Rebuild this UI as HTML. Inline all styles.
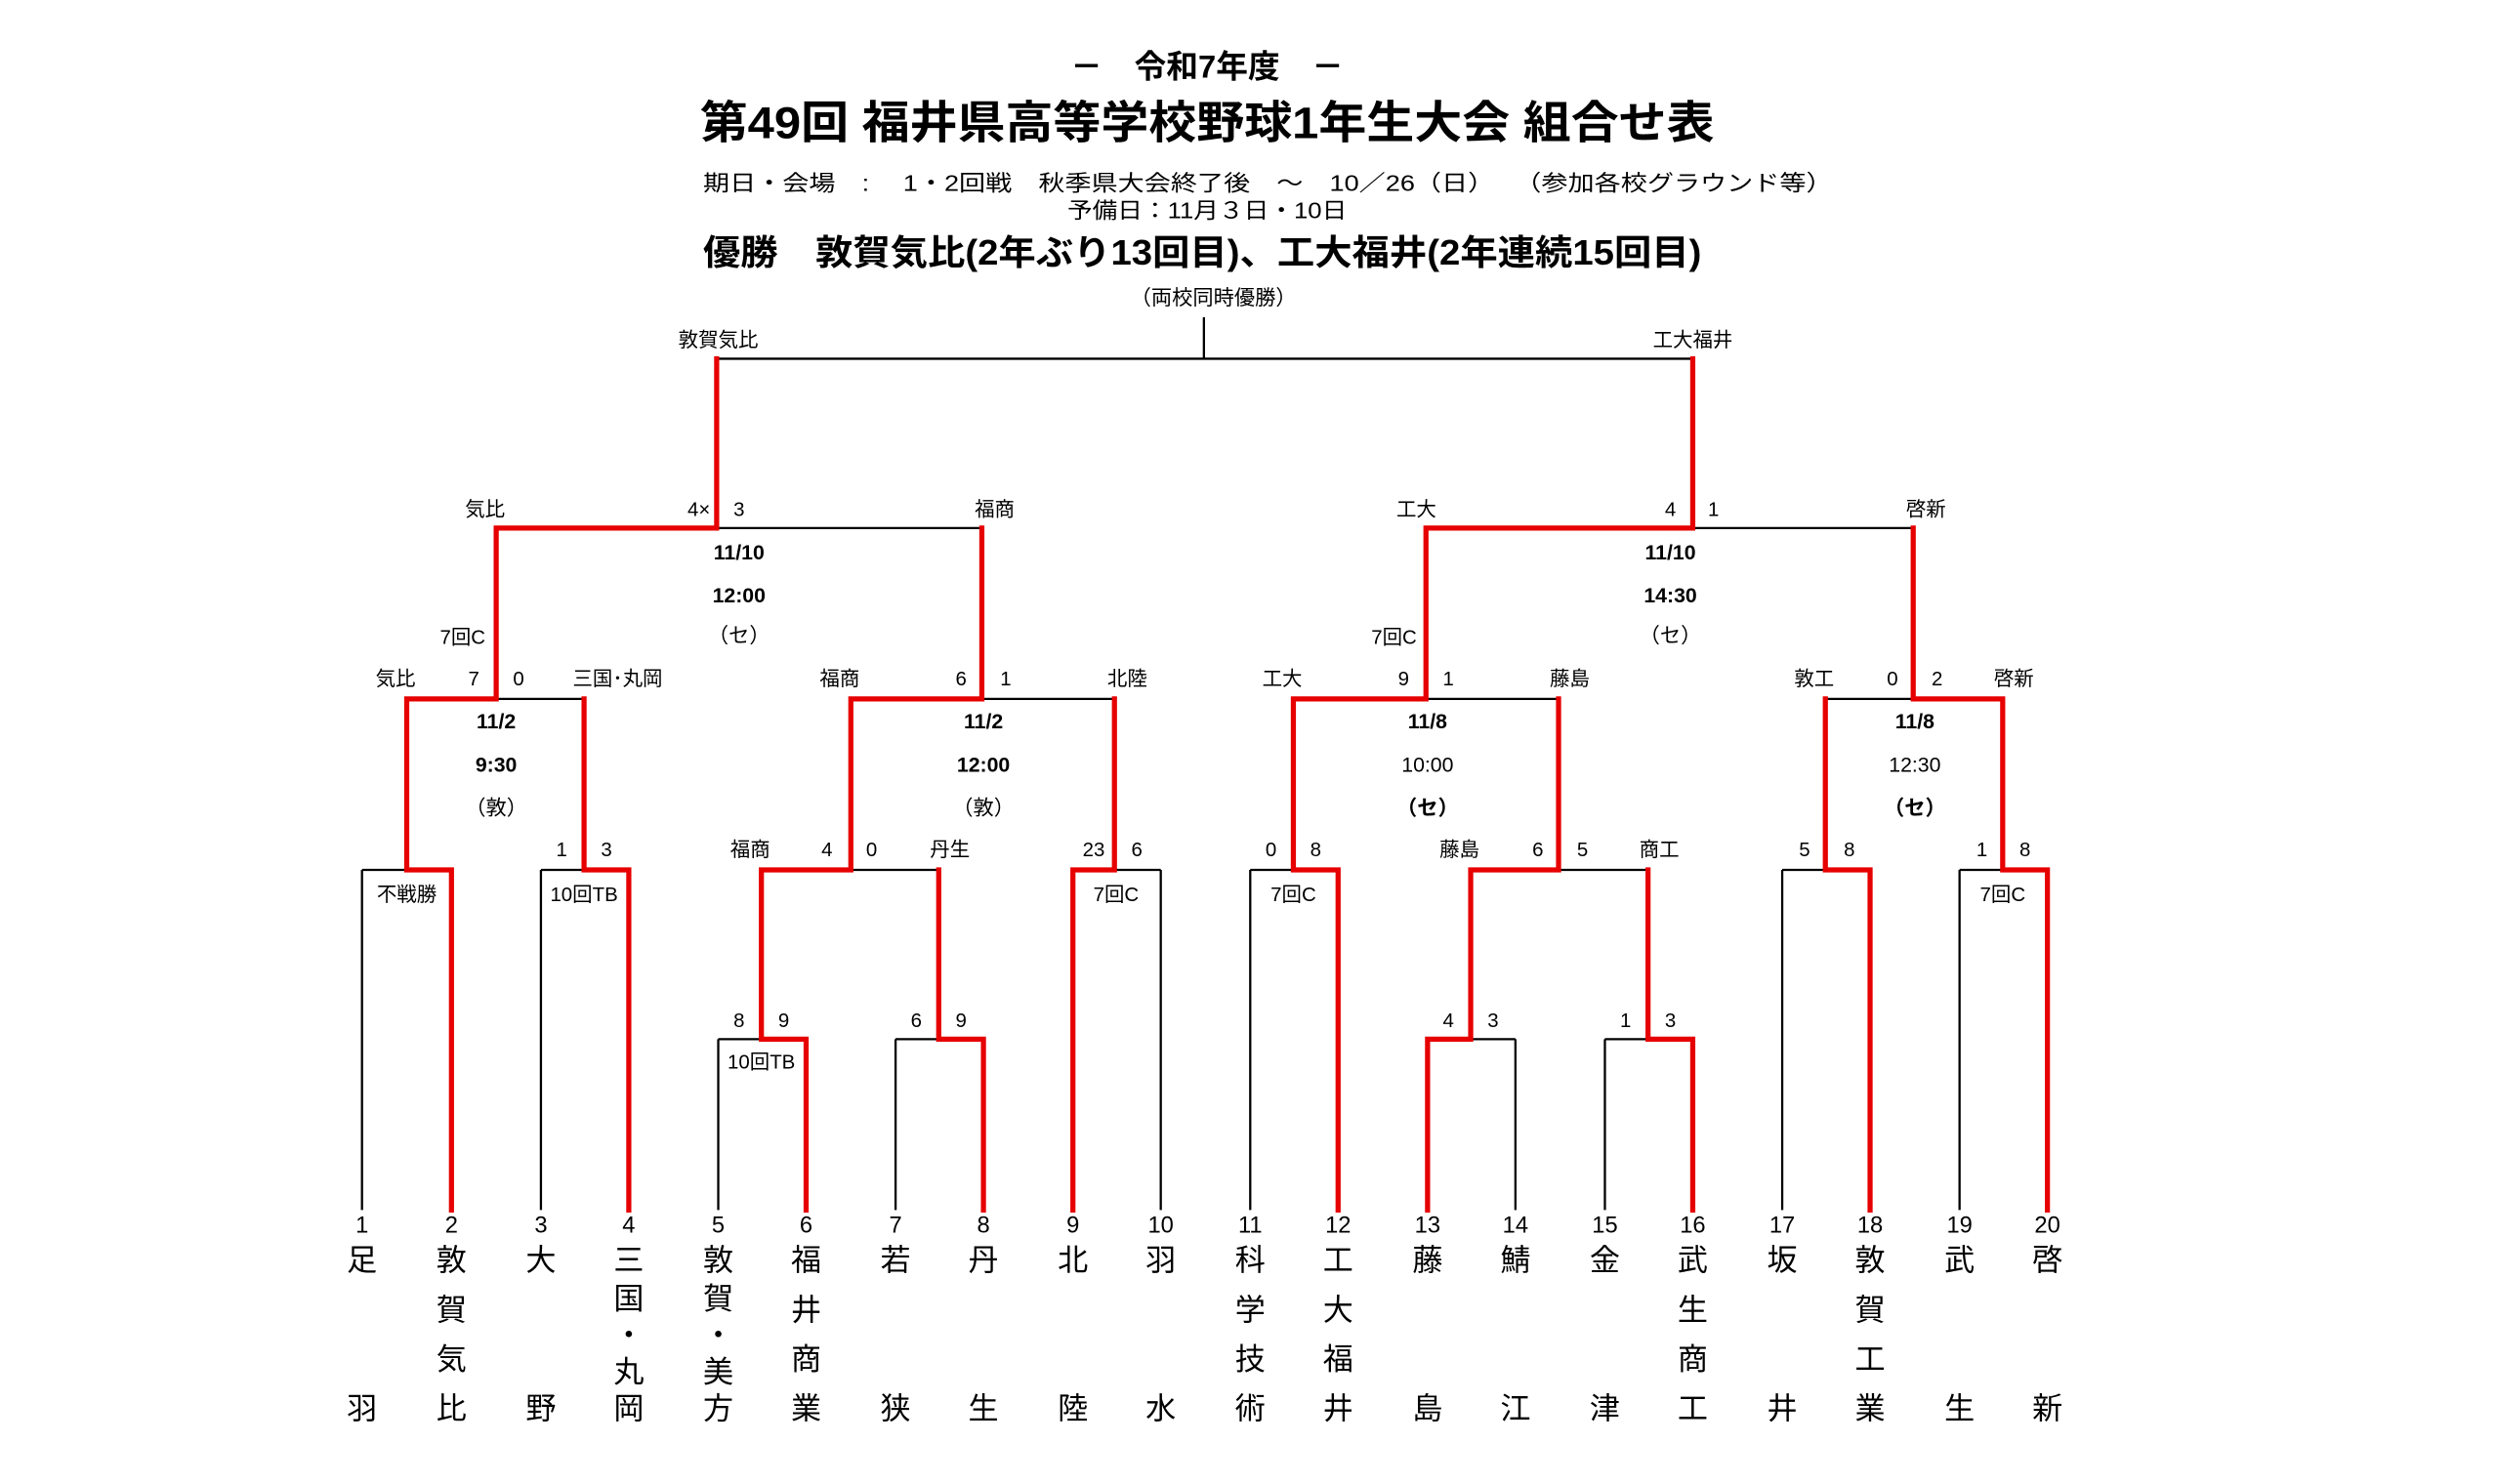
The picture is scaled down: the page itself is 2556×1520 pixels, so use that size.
<!DOCTYPE html>
<html><head><meta charset="utf-8"><style>
html,body{margin:0;padding:0;background:#fff;}
svg{display:block;}
text{font-family:"Liberation Sans","Noto Sans CJK JP",sans-serif;fill:#000;}
</style></head><body>
<svg width="2556" height="1520" viewBox="2.4 2.4 1562.4 929.1" preserveAspectRatio="none" xmlns="http://www.w3.org/2000/svg">
<rect x="0" y="0" width="1570" height="935" fill="#fff"/>
<g text-anchor="middle" transform="translate(0,2)">
<text x="758" y="49" font-size="20" font-weight="bold">－　令和7年度　－</text>
<text x="758" y="87" font-size="28" font-weight="bold" textLength="635" lengthAdjust="spacingAndGlyphs">第49回  福井県高等学校野球1年生大会  組合せ表</text>
<text x="796" y="120" font-size="14" textLength="707" lengthAdjust="spacingAndGlyphs">期日・会場　:　 1・2回戦　秋季県大会終了後　～　10／26（日）　 （参加各校グラウンド等）</text>
<text x="758" y="137" font-size="14" textLength="175" lengthAdjust="spacingAndGlyphs">予備日：11月３日・10日</text>
<text x="755" y="166" font-size="22" font-weight="bold" textLength="625" lengthAdjust="spacingAndGlyphs">優勝　敦賀気比(2年ぶり13回目)、工大福井(2年連続15回目)</text>
<text x="762" y="191" font-size="13">（両校同時優勝）</text>
</g>
<g fill="none" stroke="#000" stroke-width="1.4">
<path d="M756 201V227M451 227H1062M313 333H617M895 333H1200M257 440H368M535 440H700M812 440H978M1145 440H1256
M229 547H285M341 547H396M479 547H590M674 547H729M785 547H840M923 547H1034M1118 547H1173M1229 547H1284
M452 653H507M563 653H618M896 653H951M1007 653H1062
M229 547V760M341 547V760M452 653V760M563 653V760M729 547V760M785 547V760M951 653V760M1007 653V760M1118 547V760M1229 547V760"/>
</g>
<g fill="none" stroke="#e60000" stroke-width="3.2" stroke-linecap="square" stroke-linejoin="miter">
<path d="M451 227V333M1062 227V333
M451 333H313V440M617 333V440M1062 333H895V440M1200 333V440
M313 440H257V547M368 440V547M617 440H535V547M700 440V547M895 440H812V547M978 440V547M1200 440H1256V547M1145 440V547
M257 547H285V760M368 547H396V760M535 547H479V653M590 547V653M700 547H674V760M812 547H840V760M978 547H923V653M1034 547V653M1145 547H1173V760M1256 547H1284V760
M479 653H507V760M590 653H618V760M923 653H896V760M1034 653H1062V760"/>
</g>
<g text-anchor="middle" font-size="12.5" transform="translate(0,1.5)">
<text x="452" y="218">敦賀気比</text><text x="1062" y="218">工大福井</text>
<text x="306" y="324">気比</text><text x="447" y="324" text-anchor="end">4×</text><text x="465" y="324">3</text><text x="625" y="324">福商</text>
<text x="889" y="324">工大</text><text x="1048" y="324">4</text><text x="1075" y="324">1</text><text x="1208" y="324">啓新</text>
<g font-weight="bold" font-size="13">
<text x="465" y="351">11/10</text><text x="465" y="378">12:00</text>
<text x="1048" y="351">11/10</text><text x="1048" y="378">14:30</text>
<text x="313" y="457">11/2</text><text x="313" y="484">9:30</text>
<text x="618" y="457">11/2</text><text x="618" y="484">12:00</text>
<text x="896" y="457">11/8</text><text x="1201" y="457">11/8</text>
<text x="896" y="511">（セ）</text><text x="1201" y="511">（セ）</text>
</g>
<text x="465" y="403" font-size="13">（セ）</text><text x="1048" y="403" font-size="13">（セ）</text>
<text x="313" y="511" font-size="13">（敦）</text><text x="618" y="511" font-size="13">（敦）</text>
<text x="896" y="484" font-size="13">10:00</text><text x="1201" y="484" font-size="13">12:30</text>
<text x="292" y="404">7回C</text><text x="875" y="404">7回C</text>
<text x="250" y="430">気比</text><text x="299" y="430">7</text><text x="327" y="430">0</text><text x="389" y="430">三国･丸岡</text>
<text x="528" y="430">福商</text><text x="604" y="430">6</text><text x="632" y="430">1</text><text x="708" y="430">北陸</text>
<text x="805" y="430">工大</text><text x="881" y="430">9</text><text x="909" y="430">1</text><text x="985" y="430">藤島</text>
<text x="1138" y="430">敦工</text><text x="1187" y="430">0</text><text x="1215" y="430">2</text><text x="1263" y="430">啓新</text>
<text x="354" y="537">1</text><text x="382" y="537">3</text>
<text x="472" y="537">福商</text><text x="520" y="537">4</text><text x="548" y="537">0</text><text x="597" y="537">丹生</text>
<text x="687" y="537">23</text><text x="714" y="537">6</text>
<text x="798" y="537">0</text><text x="826" y="537">8</text>
<text x="916" y="537">藤島</text><text x="965" y="537">6</text><text x="993" y="537">5</text><text x="1041" y="537">商工</text>
<text x="1132" y="537">5</text><text x="1160" y="537">8</text>
<text x="1243" y="537">1</text><text x="1270" y="537">8</text>
<text x="257" y="565">不戦勝</text><text x="368" y="565">10回TB</text><text x="701" y="565">7回C</text><text x="812" y="565">7回C</text><text x="1256" y="565">7回C</text>
<text x="465" y="644">8</text><text x="493" y="644">9</text><text x="576" y="644">6</text><text x="604" y="644">9</text>
<text x="909" y="644">4</text><text x="937" y="644">3</text><text x="1020" y="644">1</text><text x="1048" y="644">3</text>
<text x="479" y="670">10回TB</text>
</g>
<g text-anchor="middle" font-size="14.5" transform="translate(0,1)">
<text x="229" y="773">1</text><text x="285" y="773">2</text><text x="341" y="773">3</text><text x="396" y="773">4</text><text x="452" y="773">5</text>
<text x="507" y="773">6</text><text x="563" y="773">7</text><text x="618" y="773">8</text><text x="674" y="773">9</text><text x="729" y="773">10</text>
<text x="785" y="773">11</text><text x="840" y="773">12</text><text x="896" y="773">13</text><text x="951" y="773">14</text><text x="1007" y="773">15</text>
<text x="1062" y="773">16</text><text x="1118" y="773">17</text><text x="1173" y="773">18</text><text x="1229" y="773">19</text><text x="1284" y="773">20</text>
</g>
<g text-anchor="middle" font-size="19" transform="translate(0,1)">
<text x="229" y="797">足</text><text x="229" y="890">羽</text>
<text x="285" y="797">敦</text><text x="285" y="828">賀</text><text x="285" y="859">気</text><text x="285" y="890">比</text>
<text x="341" y="797">大</text><text x="341" y="890">野</text>
<text x="396" y="797">三</text><text x="396" y="821">国</text><text x="396" y="844">・</text><text x="396" y="867">丸</text><text x="396" y="890">岡</text>
<text x="452" y="797">敦</text><text x="452" y="821">賀</text><text x="452" y="844">・</text><text x="452" y="867">美</text><text x="452" y="890">方</text>
<text x="507" y="797">福</text><text x="507" y="828">井</text><text x="507" y="859">商</text><text x="507" y="890">業</text>
<text x="563" y="797">若</text><text x="563" y="890">狭</text>
<text x="618" y="797">丹</text><text x="618" y="890">生</text>
<text x="674" y="797">北</text><text x="674" y="890">陸</text>
<text x="729" y="797">羽</text><text x="729" y="890">水</text>
<text x="785" y="797">科</text><text x="785" y="828">学</text><text x="785" y="859">技</text><text x="785" y="890">術</text>
<text x="840" y="797">工</text><text x="840" y="828">大</text><text x="840" y="859">福</text><text x="840" y="890">井</text>
<text x="896" y="797">藤</text><text x="896" y="890">島</text>
<text x="951" y="797">鯖</text><text x="951" y="890">江</text>
<text x="1007" y="797">金</text><text x="1007" y="890">津</text>
<text x="1062" y="797">武</text><text x="1062" y="828">生</text><text x="1062" y="859">商</text><text x="1062" y="890">工</text>
<text x="1118" y="797">坂</text><text x="1118" y="890">井</text>
<text x="1173" y="797">敦</text><text x="1173" y="828">賀</text><text x="1173" y="859">工</text><text x="1173" y="890">業</text>
<text x="1229" y="797">武</text><text x="1229" y="890">生</text>
<text x="1284" y="797">啓</text><text x="1284" y="890">新</text>
</g>
</svg>
</body></html>
